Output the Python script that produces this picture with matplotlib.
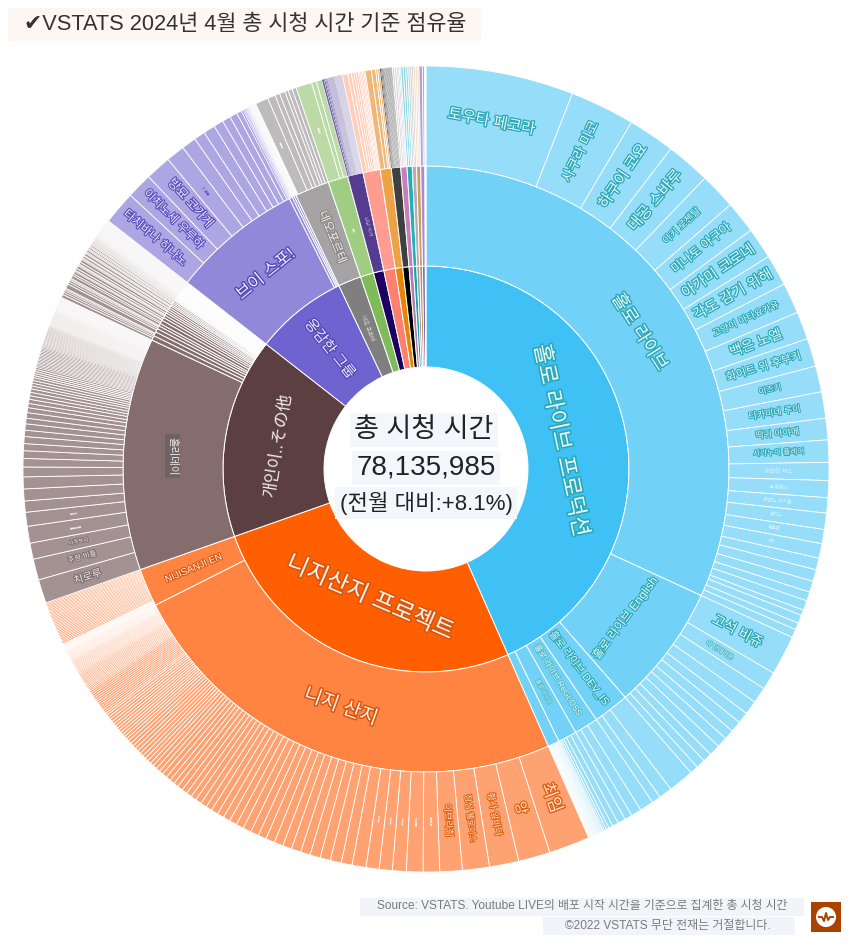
import numpy as np
import matplotlib
matplotlib.use("Agg")
import matplotlib.pyplot as plt
import matplotlib.patheffects as pe
from matplotlib.patches import Rectangle, Circle

plt.rcParams['font.family'] = ['Liberation Sans', 'Noto Sans CJK KR', 'DejaVu Sans']

inner_values = [156.2, 94.4, 57.4, 26.6, 6.6, 3.8, 3.0, 3.3, 2.1, 1.8, 1.2, 1.0, 0.8, 0.8, 0.8, 0.2]
inner_colors = ['#3FC1F5', '#FF5F00', '#5C3F40', '#6F63CF', '#7F7F7F', '#7FBB58', '#1E0063', '#FF7F70',
                '#E58608', '#000000', '#AE7FB5', '#17A2AE', '#999999', '#C98E50', '#7A63B0', '#FFFFFF']

holo_mid = [114.7, 24.2, 6.9, 4.6, 3.6, 2.2]
niji_mid = [87.1, 7.3]
other_mid = [44.6]
other_tail_mid = [0.9, 0.8, 0.7, 0.6, 0.5, 0.7, 0.6, 0.5, 0.5, 0.4, 0.4, 0.4, 0.4, 0.3, 0.3, 0.3, 0.3,
                  0.2, 0.2, 0.2, 0.2, 0.1, 0.1, 0.1, 0.1, 0.1, 0.1, 0.1, 0.1, 0.1, 0.1, 0.1, 0.1, 0.1, 0.1,
                  0.05, 0.05, 0.05, 0.05, 0.05, 0.05, 0.05, 0.05, 0.05, 0.05, 0.05, 0.05, 0.05, 0.05, 0.05,
                  0.05, 0.05, 0.05, 0.05, 0.05, 0.05, 0.05, 0.05, 0.05, 0.05, 0.05, 0.05, 0.05, 0.05, 0.05,
                  0.05, 0.05, 0.05, 0.05, 0.05, 0.05, 0.05, 0.05, 0.05, 0.05]
spo_mid = [25.2, 0.6, 0.4, 0.4]
small_mid = [6.6, 3.8, 3.0, 3.3, 2.1, 1.8, 1.2, 1.0, 0.8, 0.8, 0.8, 0.2]
small_mid_colors = ['#A5A3A3', '#A0CD84', '#553C90', '#FF9C90', '#EBA346', '#404040', '#C67FB8', '#22AEBB',
                    '#B0B0B0', '#D29A62', '#A08ED0', '#FFFFFF']

holo_main_leaves = [21.3, 9.35, 6.75, 6.4, 5.25, 4.65, 4.5, 4.5, 4.45, 4.0, 4.05, 3.75, 3.8, 3.1, 3.2, 2.6,
                    2.45, 2.2, 2.35, 2.05, 2.1, 1.7, 1.7, 1.6, 1.3, 1.4, 0.8, 1.2, 1.0, 1.2]
holo_en_leaves = [5.7, 2.6, 2.3, 2.0, 1.6, 1.6, 1.4, 1.5, 1.6, 1.3, 1.3, 1.2]
holo_dev_leaves = [3.7, 1.9, 1.3]
holo_regloss_leaves = [2.0, 1.5, 1.1]
holo_fourth_leaves = [1.1, 0.9, 0.6, 0.4, 0.3, 0.2, 0.1]
holo_last_leaves = [0.16, 0.14, 0.14, 0.12, 0.12, 0.12, 0.1, 0.1, 0.1, 0.1, 0.1, 0.1, 0.08, 0.08, 0.08, 0.08,
                    0.08, 0.08, 0.08, 0.06, 0.06, 0.06, 0.06, 0.06]

niji_main_leaves = [5.95, 4.6, 4.25, 3.9, 3.25, 2.4, 2.4, 2.0, 1.9, 1.9, 2.0, 1.6,
                    1.6, 1.5, 1.5, 1.4, 1.4, 1.3, 1.3, 1.3, 1.2, 1.2, 1.2, 1.1, 1.1,
                    1.0, 1.0, 1.0, 0.9, 0.9, 0.9, 0.8, 0.8, 0.8, 0.8, 0.7, 0.7, 0.7, 0.7, 0.6, 0.6, 0.6,
                    0.52, 0.52, 0.5, 0.5, 0.5, 0.5, 0.5, 0.5, 0.48, 0.48,
                    0.42, 0.42, 0.4, 0.4, 0.4, 0.4, 0.4, 0.4, 0.4, 0.4, 0.38, 0.38,
                    0.32, 0.32, 0.3, 0.3, 0.3, 0.3, 0.3, 0.3, 0.3, 0.3, 0.3, 0.3, 0.28, 0.28,
                    0.22, 0.22, 0.2, 0.2, 0.2, 0.2, 0.2, 0.2, 0.2, 0.2, 0.2, 0.2, 0.2, 0.18, 0.18,
                    0.16, 0.16, 0.15, 0.15, 0.15, 0.15, 0.15, 0.15, 0.15, 0.15, 0.15, 0.15, 0.14, 0.14,
                    0.12, 0.12, 0.11, 0.1, 0.1, 0.1, 0.1, 0.1, 0.1, 0.1, 0.1, 0.1, 0.1, 0.1, 0.09, 0.08, 0.08]
niji_en_leaves = [0.05, 0.05, 0.05, 0.05, 0.05, 0.05, 0.05, 0.05, 0.05, 0.05, 0.05, 0.05, 0.05, 0.05, 0.05, 0.05,
                  0.05, 0.05, 0.05, 0.05,
                  0.22, 0.22, 0.22, 0.22, 0.22, 0.22, 0.22, 0.22, 0.22, 0.21, 0.21, 0.21, 0.21, 0.21, 0.21,
                  0.21, 0.21, 0.21, 0.21, 0.2, 0.2, 0.2, 0.2, 0.2, 0.2, 0.2, 0.2, 0.2, 0.2, 0.2]

other_main_leaves = [3.4, 3.0, 2.3, 2.4, 2.0, 1.6, 1.7, 1.7, 1.4, 1.2, 1.1, 1.0, 1.0, 0.9, 0.9, 0.8, 0.8, 0.7,
                     0.6, 0.6, 0.5, 0.5, 0.5, 0.4, 0.4, 0.4, 0.4, 0.3, 0.3, 0.3, 0.3, 0.3,
                     0.21, 0.21, 0.2, 0.2, 0.2, 0.2, 0.2, 0.2, 0.2, 0.2, 0.2, 0.2, 0.2, 0.19, 0.19,
                     0.16, 0.16, 0.16, 0.15, 0.15, 0.15, 0.15, 0.15, 0.15, 0.15, 0.15, 0.15, 0.15, 0.15, 0.15,
                     0.15, 0.15, 0.14, 0.14, 0.14,
                     0.11, 0.11, 0.11, 0.1, 0.1, 0.1, 0.1, 0.1, 0.1, 0.1, 0.1, 0.1, 0.1, 0.1, 0.1, 0.1, 0.1,
                     0.1, 0.1, 0.1, 0.1, 0.09, 0.09, 0.09, 0.09,
                     0.06, 0.06, 0.06, 0.06, 0.06, 0.06, 0.06, 0.06, 0.06, 0.06, 0.06, 0.06, 0.06, 0.06, 0.06,
                     0.06, 0.06, 0.06, 0.06, 0.06, 0.06, 0.06, 0.06, 0.06, 0.06, 0.06, 0.06, 0.06, 0.06, 0.06,
                     0.06, 0.06, 0.06]
other_tail_leaves = [0.35, 0.25, 0.2, 0.15, 0.12, 0.5, 0.25, 0.2, 0.12, 0.12, 0.35, 0.2, 0.3, 0.12, 0.25, 0.3,
                     0.12, 0.1, 0.25, 0.3, 0.12, 0.1, 0.2, 0.1, 0.25, 0.1, 0.1, 0.2, 0.1, 0.1, 0.15, 0.1,
                     0.1, 0.15, 0.08, 0.08, 0.12, 0.08, 0.08, 0.1, 0.08, 0.08, 0.1, 0.06, 0.06, 0.08, 0.06,
                     0.06, 0.06, 0.06, 0.06, 0.05, 0.05, 0.05, 0.05, 0.05, 0.05, 0.05, 0.05, 0.05, 0.05, 0.05,
                     0.05, 0.05, 0.05, 0.05, 0.05, 0.05, 0.05, 0.05, 0.05, 0.05, 0.05, 0.05, 0.05, 0.05, 0.05,
                     0.05, 0.05, 0.05, 0.05, 0.05, 0.05, 0.05, 0.05, 0.05, 0.05]

spo_leaves = [4.8, 3.7, 3.7, 2.7, 2.1, 1.6, 1.7, 1.4, 1.2, 1.1, 0.7, 0.3, 0.2, 0.2, 0.15, 0.15, 0.1, 0.1, 0.1, 0.1,
              0.05, 0.05, 0.05, 0.05, 0.05, 0.05, 0.05, 0.05, 0.05, 0.05]
neo_leaves = [0.05, 0.05, 0.05, 0.05, 0.05, 0.05, 0.05, 0.05, 1.9, 1.1, 0.7, 0.8, 0.5, 0.6, 0.6]
green_leaves = [2.3, 0.7, 0.8]
navy_leaves = [0.3, 0.2, 0.15, 0.15, 0.1, 0.1, 0.1, 0.1, 0.1, 0.1, 0.1, 0.1, 0.1, 0.1, 0.06, 0.06, 0.06, 0.06,
               0.06, 0.06, 0.06, 0.06, 0.06, 0.06, 0.06, 0.06, 0.06, 0.06, 0.06, 0.06, 0.06, 0.06, 0.06, 0.06]
salmon_leaves = [0.8, 0.5, 0.4, 0.3, 0.3, 0.2, 0.2, 0.2, 0.2, 0.2]
orange_leaves = [0.9, 0.6, 0.3, 0.3]
dark_leaves = [0.2, 0.15, 0.15, 0.1, 0.1, 0.1, 0.1, 0.1, 0.1, 0.1, 0.1, 0.1, 0.1, 0.1, 0.1, 0.1]
pink_leaves = [0.3, 0.3, 0.2, 0.2, 0.2]
teal_leaves = [0.35, 0.35, 0.3]
gray_leaves = [0.3, 0.25, 0.25]
tan_leaves = [0.3, 0.25, 0.25]
violet_leaves = [0.5, 0.3]
blank_leaves = [0.2]

leaf_groups = [holo_main_leaves, holo_en_leaves, holo_dev_leaves, holo_regloss_leaves, holo_fourth_leaves,
               holo_last_leaves, niji_main_leaves, niji_en_leaves, other_main_leaves, other_tail_leaves,
               spo_leaves, neo_leaves, green_leaves, navy_leaves, salmon_leaves, orange_leaves, dark_leaves,
               pink_leaves, teal_leaves, gray_leaves, tan_leaves, violet_leaves, blank_leaves]
leaf_parents = holo_mid + niji_mid + other_mid + [sum(other_tail_mid), sum(spo_mid)] + small_mid
leaf_colors = ['#96DDF9'] * 6 + ['#FFA272'] * 2 + ['#A49292'] * 2 + ['#AEA6E2', '#BDBBBB', '#BBDAA6', '#6F62A8',
               '#FFCDB8', '#F0B878', '#5E5E5E', '#DDD3DC', '#8CDDEA', '#D2D2D2', '#F5DFCC', '#ACA3D6', '#FFFFFF']

mid_values = holo_mid + niji_mid + other_mid + other_tail_mid + spo_mid + small_mid
mid_colors = (['#71D1F7'] * len(holo_mid) + ['#FF8442'] * len(niji_mid) + ['#856D6D'] * (1 + len(other_tail_mid))
              + ['#9288D9'] * len(spo_mid) + small_mid_colors)

outer_values = []
outer_colors = []
group_start = []
for leaves, parent, col in zip(leaf_groups, leaf_parents, leaf_colors):
    group_start.append(len(outer_values))
    scaled = np.array(leaves) * parent / sum(leaves)
    outer_values.extend(scaled)
    outer_colors.extend([col] * len(leaves))

W, H = 850, 950
CENTER = (426, H - 469)

fig = plt.figure(figsize=(8.5, 9.5), dpi=100)
ax = fig.add_axes([0, 0, 1, 1])


def ring(values, colors, r_out, r_in, lw):
    wedges, _ = ax.pie(values, colors=colors, radius=r_out, center=CENTER, startangle=90, counterclock=False,
                       wedgeprops=dict(width=r_out - r_in, edgecolor='white', linewidth=lw))
    return wedges


inner = ring(inner_values, inner_colors, 203, 102, 0.7)
mid = ring(mid_values, mid_colors, 303, 203, 0.7)
outer = ring(outer_values, outer_colors, 403, 303, 0.6)
# thin edges on the fine slivers, the dark bundles keep more of their colour
keep_dark = set(range(group_start[13], group_start[14])) | set(range(group_start[16], group_start[17]))
for i, (w, v) in enumerate(zip(outer, outer_values)):
    if i in keep_dark:
        w.set_linewidth(0.2)
    elif v < 0.3:
        w.set_linewidth(0.4)


def label(w, text, r, mode, size, fill='#EAF9FD', stroke='#2AA9B9', rotation=None, **kw):
    ang = (w.theta1 + w.theta2) / 2
    x = CENTER[0] + r * np.cos(np.radians(ang))
    y = CENTER[1] + r * np.sin(np.radians(ang))
    rot = ang if mode == 'radial' else ang - 90
    rot = (rot + 90) % 180 - 90
    if rotation is not None:
        rot = rotation
    t = ax.text(x, y, text, ha='center', va='center', rotation=rot, rotation_mode='anchor',
                fontsize=size, color=fill, **kw)
    if stroke:
        t.set_path_effects([pe.withStroke(linewidth=min(0.8 + size * 0.1, 2.4), foreground=stroke)])


# inner ring
label(inner[0], '홀로 라이브 프로덕션', 137, 'tangential', 16)
label(inner[1], '니지산지 프로젝트', 141, 'tangential', 17, fill='#FFF4EC', stroke='#D9560F')
label(inner[2], '개인이..その他', 150, 'tangential', 12, fill='#F3EEEE', stroke=None)
label(inner[3], '옹감한 그룹', 154, 'radial', 10.5, fill='#F0EEFB', stroke='#5548B8')
label(inner[4], '네오 포르테', 153, 'radial', 4, fill='#E6D6D6', stroke=None)

# second ring
mid_en = len(holo_mid)
label(mid[0], '홀로 라이브', 253, 'tangential', 13)
label(mid[1], '홀로 라이브 English', 249, 'tangential', 8.5)
label(mid[2], '홀로 라이브 DEV_IS', 251, 'radial', 7.5)
label(mid[3], '홀로 라이브 ReGLOSS', 249, 'radial', 6, stroke='#55BBCB')
label(mid[4], '홀로 라이브', 252, 'radial', 4, fill='#D8F3FB', stroke='#55BBCB')
label(mid[mid_en], '니지 산지', 253, 'tangential', 14, fill='#FFF4EC', stroke='#D9560F')
label(mid[mid_en + 1], 'NIJISANJI EN', 253, 'radial', 7, fill='#FFF4EC', stroke='#D9560F')
label(mid[mid_en + 2], '홀리데이', 254, 'tangential', 7.5, fill='#F1ECEC', stroke=None, rotation=-90,
      bbox=dict(facecolor='#6E6262', edgecolor='none', pad=2))
spo_i = mid_en + 3 + len(other_tail_mid)
label(mid[spo_i], '브이 스포!', 252, 'tangential', 12, fill='#F0EEFB', stroke='#5548B8')
label(mid[spo_i + 4], '네오포르테', 250, 'radial', 8.7, fill='#F3EEEE', stroke='#8C8686')
label(mid[spo_i + 5], '■■', 250, 'radial', 3, fill='#EAF5E2', stroke=None)
label(mid[spo_i + 6], '나나 시가', 250, 'radial', 3.5, fill='#D9D2EC', stroke=None)
label(mid[spo_i + 7], '—', 250, 'radial', 3.5, fill='#FFE9E2', stroke=None)

# leaves, hololive
holo_names = ['토우타 페코라', '사쿠라 미코', '하쿠이 코요', '대공 스바루', '아키 로젠탈', '미나토 아쿠아', '아가미 코로네',
              '각도 감기 위해', '고양이 마타요카유', '백은 노엘', '화이트 위 후부키', '이즈키', '타카미네 루이', '떡귀 아야메',
              '시라누이 플레어', '아와이 사스', '■ 크로니', '유메노 아키로', '토키노', '로보코', '소라', '•••']
holo_sizes = [11, 9.8, 11, 11, 7, 9, 10.5, 10.5, 6.8, 10, 8, 6, 6.5, 6.5, 5.5, 4, 3.5, 3.5, 3.2, 3.2, 2.8, 2.5]
for i, (name, size) in enumerate(zip(holo_names, holo_sizes)):
    mode = 'tangential' if i == 0 else 'radial'
    stroke = '#2AA9B9' if size >= 5 else None
    label(outer[i], name, 353, mode, size, stroke=stroke, fill='#EAF9FD' if size >= 5 else '#E4F7FD')

en = group_start[1]
label(outer[en], '고석 비쥬', 351, 'radial', 10)
label(outer[en + 1], '아 단데리온', 345, 'radial', 4.5, stroke='#55BBCB')
label(outer[en + 2], '•••', 345, 'radial', 3, fill='#E4F7FD', stroke=None)

# leaves, nijisanji
nj = group_start[6]
niji_names = ['최임', '앙', '황사 앞바다', '점심 웰로이스', '이브라힘']
niji_sizes = [12, 10, 6.5, 6, 6.5]
for i, (name, size) in enumerate(zip(niji_names, niji_sizes)):
    label(outer[nj + i], name, 352, 'radial', size, fill='#FFE6D8', stroke='#E0600F')
for i, size in zip(range(5, 10), [3, 3, 2.5, 2.5, 2.5]):
    label(outer[nj + i], '■■■■', 352, 'radial', size, fill='#FFE9DE', stroke=None)

# leaves, others and vspo
ot = group_start[8]
label(outer[ot], '치로루', 355, 'radial', 7.5, fill='#F3EEEE', stroke='#7E6E6E')
label(outer[ot + 1], '주량 비틀', 355, 'radial', 5.3, fill='#F3EEEE', stroke='#7E6E6E')
label(outer[ot + 2], '사쿠보리', 355, 'radial', 4, fill='#F3EEEE', stroke='#7E6E6E')
label(outer[ot + 3], '■■■■■', 355, 'radial', 3, fill='#F3EEEE', stroke=None)
label(outer[ot + 4], '■■■■', 355, 'radial', 2.5, fill='#F3EEEE', stroke=None)

sp = group_start[10]
label(outer[sp], '타치바나 히나노', 356, 'radial', 8.5, fill='#ECE9FA', stroke='#5B4FC0')
label(outer[sp + 1], '이치노세 우루하', 355, 'radial', 8.5, fill='#ECE9FA', stroke='#5B4FC0')
label(outer[sp + 2], '방묘 코가게', 355, 'radial', 9, fill='#ECE9FA', stroke='#5B4FC0')
label(outer[sp + 3], 'v ■■', 355, 'radial', 3.5, fill='#5B4FC0', stroke=None)
label(outer[group_start[11] + 8], '■■■', 355, 'radial', 3, fill='#F4F4F4', stroke=None)
label(outer[group_start[12]], '■■■', 355, 'radial', 3, fill='#F4F9EF', stroke=None)

# centre text
box = dict(facecolor='#F3F7FB', edgecolor='none', pad=3)
ax.text(424, H - 430, '총 시청 시간', ha='center', va='center', fontsize=19.5, color='#222222', bbox=box)
ax.text(426, H - 468, '78,135,985', ha='center', va='center', fontsize=20, color='#222222', bbox=box)
ax.text(426, H - 503, '(전월 대비:+8.1%)', ha='center', va='center', fontsize=16, color='#222222', bbox=box)

# title
ax.add_patch(Rectangle((8, H - 41), 473, 33, facecolor='#FDF6F2', edgecolor='none'))
ax.text(24, H - 24, '✔VSTATS 2024년 4월 총 시청 시간 기준 점유율', ha='left', va='center', fontsize=15.7, color='#333333')

# footer
ax.add_patch(Rectangle((360, H - 916), 444, 18, facecolor='#F1F5FA', edgecolor='none'))
ax.add_patch(Rectangle((543, H - 935), 252, 18, facecolor='#F1F5FA', edgecolor='none'))
ax.text(582, H - 906, 'Source: VSTATS. Youtube LIVE의 배포 시작 시간을 기준으로 집계한 총 시청 시간', ha='center', va='center',
        fontsize=8.55, color='#7A7A7A')
ax.text(668, H - 926, '©2022 VSTATS 무단 전재는 거절합니다.', ha='center', va='center', fontsize=8.6, color='#7A7A7A')

# logo
ax.add_patch(Rectangle((811, H - 932), 30, 30, facecolor='#A84300', edgecolor='none'))
ax.add_patch(Circle((826, H - 917), 10, facecolor='white', edgecolor='none'))
ax.plot([819, 822, 824, 826, 828, 830, 833], [H - 917, H - 917, H - 921, H - 913, H - 920, H - 917, H - 917],
        color='#A84300', lw=1.4)

ax.set_xlim(0, W)
ax.set_ylim(0, H)
ax.axis('off')
fig.savefig('out.png', dpi=100)
